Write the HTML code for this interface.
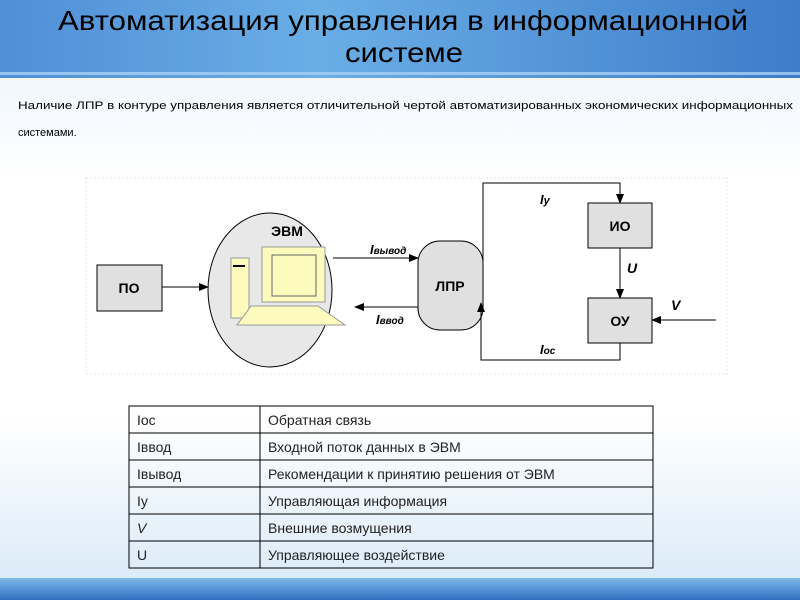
<!DOCTYPE html>
<html><head><meta charset="utf-8"><style>
html,body{margin:0;padding:0;width:800px;height:600px;overflow:hidden}
svg{display:block}
text{font-family:"Liberation Sans","DejaVu Sans",sans-serif}
</style></head><body>
<svg width="800" height="600" viewBox="0 0 800 600" xmlns="http://www.w3.org/2000/svg">
<defs>
<linearGradient id="hd" x1="0" y1="0" x2="1" y2="0">
<stop offset="0" stop-color="#4f8fd6"/><stop offset="0.4" stop-color="#6aaee6"/><stop offset="1" stop-color="#3d7cc9"/>
</linearGradient>
<linearGradient id="bg" x1="0" y1="0" x2="0" y2="1">
<stop offset="0" stop-color="#e6f1fb"/><stop offset="0.3" stop-color="#ffffff"/><stop offset="0.7" stop-color="#ffffff"/><stop offset="1" stop-color="#d6e8f7"/>
</linearGradient>
<linearGradient id="ft" x1="0" y1="0" x2="0" y2="1">
<stop offset="0" stop-color="#7fb8ea"/><stop offset="1" stop-color="#2f6fc0"/>
</linearGradient>
<marker id="ar" markerWidth="10" markerHeight="8" refX="9" refY="4" orient="auto" markerUnits="userSpaceOnUse">
<path d="M0,0 L10,4 L0,8 z" fill="#000"/></marker>
</defs>
<rect width="800" height="600" fill="url(#bg)"/>
<rect width="800" height="78" fill="url(#hd)"/>
<rect y="72" width="800" height="3" fill="#a9d0f2" opacity="0.8"/>
<text x="403" y="30" text-anchor="middle" font-size="28" textLength="690" lengthAdjust="spacingAndGlyphs">Автоматизация управления в информационной</text>
<text x="404" y="62" text-anchor="middle" font-size="28" textLength="118" lengthAdjust="spacingAndGlyphs">системе</text>
<text x="18" y="109" font-size="11" textLength="775" lengthAdjust="spacingAndGlyphs">Наличие ЛПР в контуре управления является отличительной чертой автоматизированных экономических информационных</text>
<text x="18" y="136" font-size="11">системами.</text>

<rect x="86" y="178" width="641" height="196" fill="#fff" stroke="#e4e4e4" stroke-dasharray="2,2"/>
<g font-weight="bold" font-size="14">
<rect x="97" y="265" width="65" height="46" fill="#e0e0e0" stroke="#000"/>
<text x="129" y="293" text-anchor="middle">ПО</text>
<line x1="162" y1="287" x2="208" y2="287" stroke="#000" marker-end="url(#ar)"/>
<ellipse cx="270" cy="290" rx="62" ry="77" fill="#e8e8e8" stroke="#000"/>
<text x="287" y="236" text-anchor="middle">ЭВМ</text>
<rect x="231" y="258" width="18" height="60" fill="#fdfabe" stroke="#999"/>
<line x1="233" y1="266" x2="245" y2="266" stroke="#000" stroke-width="2"/>
<rect x="262" y="247" width="63" height="55" fill="#fdfabe" stroke="#999"/>
<rect x="272" y="255" width="44" height="41" fill="#fdfabe" stroke="#666"/>
<path d="M251,306 L318,306 L345,325 L237,325 z" fill="#fdfabe" stroke="#999"/>
<rect x="418" y="241" width="65" height="89" rx="22" fill="#e0e0e0" stroke="#000"/>
<text x="450" y="291" text-anchor="middle">ЛПР</text>
<line x1="333" y1="258" x2="418" y2="258" stroke="#000" marker-end="url(#ar)"/>
<line x1="418" y1="307" x2="355" y2="307" stroke="#000" marker-end="url(#ar)"/>
<rect x="588" y="203" width="64" height="45" fill="#e0e0e0" stroke="#000"/>
<text x="620" y="231" text-anchor="middle">ИО</text>
<rect x="588" y="298" width="64" height="45" fill="#e0e0e0" stroke="#000"/>
<text x="620" y="326" text-anchor="middle">ОУ</text>
<polyline points="483,270 483,183 620,183 620,203" fill="none" stroke="#000" marker-end="url(#ar)"/>
<line x1="620" y1="248" x2="620" y2="298" stroke="#000" marker-end="url(#ar)"/>
<line x1="716" y1="320" x2="652" y2="320" stroke="#000" marker-end="url(#ar)"/>
<polyline points="620,343 620,360 481,360 481,303" fill="none" stroke="#000" marker-end="url(#ar)"/>
<g font-style="italic">
<text x="370" y="254" font-size="13">I<tspan font-size="10">вывод</tspan></text>
<text x="376" y="324" font-size="13">I<tspan font-size="10">ввод</tspan></text>
<text x="540" y="204" font-size="13">I<tspan font-size="11">y</tspan></text>
<text x="627" y="273" font-size="14">U</text>
<text x="671" y="310" font-size="14">V</text>
<text x="540" y="354" font-size="13">I<tspan font-size="10">oc</tspan></text>
</g>
</g>

<g font-size="14" fill="#222">
<rect x="129" y="406" width="524" height="162" fill="none" stroke="#000"/>
<line x1="260" y1="406" x2="260" y2="568" stroke="#000"/>
<line x1="129" y1="433" x2="653" y2="433" stroke="#000"/>
<line x1="129" y1="460" x2="653" y2="460" stroke="#000"/>
<line x1="129" y1="487" x2="653" y2="487" stroke="#000"/>
<line x1="129" y1="514" x2="653" y2="514" stroke="#000"/>
<line x1="129" y1="541" x2="653" y2="541" stroke="#000"/>
<text x="137" y="425">Ioc</text><text x="268" y="425">Обратная связь</text>
<text x="137" y="452">Iввод</text><text x="268" y="452">Входной поток данных в ЭВМ</text>
<text x="137" y="479">Iвывод</text><text x="268" y="479">Рекомендации к принятию решения от ЭВМ</text>
<text x="137" y="506">Iу</text><text x="268" y="506">Управляющая информация</text>
<text x="137" y="533" font-style="italic">V</text><text x="268" y="533">Внешние возмущения</text>
<text x="137" y="560">U</text><text x="268" y="560">Управляющее воздействие</text>
</g>
<rect y="578" width="800" height="22" fill="url(#ft)"/>
</svg>
</body></html>
